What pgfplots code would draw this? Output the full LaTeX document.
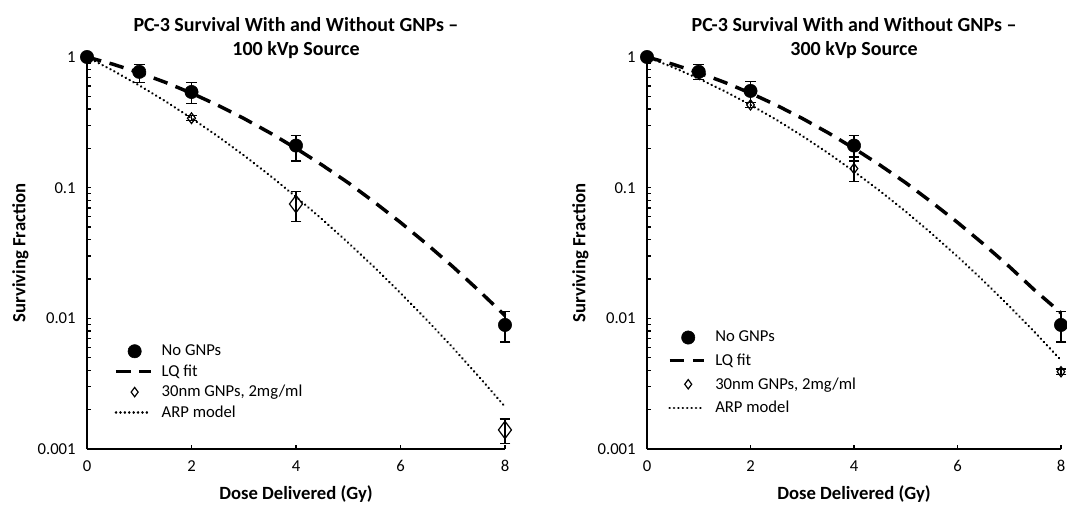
\documentclass[border=0pt]{standalone}
\usepackage{fontspec}
\setmainfont{Carlito}
\usepackage{pgfplots}
\pgfplotsset{compat=1.18}

% sizes: 1 px of the reference = 0.75pt
\tikzset{
  lqline/.style={black, line width=2.6pt, dash pattern=on 11pt off 6.5pt},
  arpline/.style={black, line width=1.9pt, line cap=round, dash pattern=on 0.1pt off 3.2pt},
}
\pgfplotsset{
  legline/.style={legend image code/.code={\draw[##1] (0pt,0pt) -- (26pt,0pt);}},
  legmark/.style={legend image code/.code={\draw[##1] plot coordinates {(14pt,0pt)};}},
  legsmall/.style={legend image code/.code={\draw[##1, mark size=3.5pt] plot coordinates {(14pt,0pt)};}},
}

\begin{document}
\begin{tikzpicture}
\begin{axis}[
  scale only axis, width=313.5pt, height=294pt,
  ymode=log,
  xmin=0, xmax=8, ymin=0.001, ymax=1,
  axis x line*=bottom, axis y line*=left,
  axis line style={line width=1.1pt},
  xtick={0,2,4,6,8}, xticklabels={0,2,4,6,8},
  ytick={0.001,0.01,0.1,1}, yticklabels={0.001,0.01,0.1,1},
  minor ytick={},
  tick align=inside, major tick length=3pt,
  tick style={line width=0.9pt, black},
  tick label style={font=\fontsize{12.5}{14}\selectfont},
  xticklabel style={yshift=-5pt},
  yticklabel style={xshift=-5pt},
  xlabel={Dose Delivered (Gy)}, ylabel={Surviving Fraction},
  label style={font=\fontsize{14}{16}\selectfont\bfseries},
  xlabel style={at={(axis description cs:0.5,0)}, anchor=center, yshift=-34pt},
  ylabel style={at={(axis description cs:0,0.5)}, anchor=center, yshift=50pt},
  title={PC-3 Survival With and Without GNPs –\\100 kVp Source},
  title style={at={(axis description cs:0.5,1)}, anchor=south, align=center,
               yshift=-11pt, font=\fontsize{15}{18}\selectfont\bfseries},
  clip=false,
  legend cell align=left,
  legend style={draw=none, fill=none, anchor=north west,
                at={(axis description cs:0.055,0.28)},
                font=\fontsize{12.5}{14}\selectfont, row sep=1.3pt,
                /tikz/every odd column/.append style={column sep=5pt}},
]
\addplot[only marks, mark=*, mark size=5pt, black, legmark,
  error bars/y dir=both, error bars/y explicit,
  error bars/error mark options={line width=0.9pt, mark size=4pt, rotate=90},
  error bars/error bar style={line width=0.9pt}] coordinates {
  (0,1)
  (1,0.77) += (0,0.11) -= (0,0.13)
  (2,0.54) += (0,0.10) -= (0,0.10)
  (4,0.21) += (0,0.04) -= (0,0.05)
  (8,0.0089) += (0,0.0024) -= (0,0.0023)
};
\addlegendentry{No GNPs}
\addplot[lqline, no marks, legline] coordinates {
  (0,1) (0.5,0.880) (1,0.758) (1.5,0.640) (2,0.529) (2.5,0.428) (3,0.339)
  (3.5,0.263) (4,0.200) (4.5,0.149) (5,0.109) (5.5,0.0775) (6,0.0542)
  (6.5,0.0371) (7,0.0249) (7.5,0.0163) (8,0.0105)
};
\addlegendentry{LQ fit}
\addplot[only marks, mark=diamond, mark size=4pt, black,
  mark options={fill=white, line width=0.9pt}, legsmall,
  error bars/y dir=both, error bars/y explicit,
  error bars/error mark options={line width=0.9pt, mark size=4pt, rotate=90},
  error bars/error bar style={line width=0.9pt}] coordinates {
  (2,0.34) += (0,0.015) -= (0,0.015)
};
\addlegendentry{30nm GNPs, 2mg/ml}
\addplot[arpline, no marks, legline] coordinates {
  (0,1) (0.5,0.786) (1,0.606) (1.5,0.459) (2,0.340) (2.5,0.248) (3,0.177)
  (3.5,0.124) (4,0.0851) (4.5,0.0573) (5,0.0379) (5.5,0.0246) (6,0.0156)
  (6.5,0.00976) (7,0.00597) (7.5,0.00358) (8,0.00211)
};
\addlegendentry{ARP model}
\addplot[forget plot, only marks, mark=diamond, mark size=6.5pt, black,
  mark options={fill=white, line width=0.9pt},
  error bars/y dir=both, error bars/y explicit,
  error bars/error mark options={line width=0.9pt, mark size=4pt, rotate=90},
  error bars/error bar style={line width=0.9pt}] coordinates {
  (4,0.075) += (0,0.018) -= (0,0.02)
  (8,0.0014) += (0,0.0003) -= (0,0.0003)
};
\end{axis}

\begin{axis}[
  xshift=420pt,
  scale only axis, width=310.5pt, height=294pt,
  ymode=log,
  xmin=0, xmax=8, ymin=0.001, ymax=1,
  axis x line*=bottom, axis y line*=left,
  axis line style={line width=1.1pt},
  xtick={0,2,4,6,8}, xticklabels={0,2,4,6,8},
  ytick={0.001,0.01,0.1,1}, yticklabels={0.001,0.01,0.1,1},
  minor ytick={},
  tick align=inside, major tick length=3pt,
  tick style={line width=0.9pt, black},
  tick label style={font=\fontsize{12.5}{14}\selectfont},
  xticklabel style={yshift=-5pt},
  yticklabel style={xshift=-5pt},
  xlabel={Dose Delivered (Gy)}, ylabel={Surviving Fraction},
  label style={font=\fontsize{14}{16}\selectfont\bfseries},
  xlabel style={at={(axis description cs:0.5,0)}, anchor=center, yshift=-34pt},
  ylabel style={at={(axis description cs:0,0.5)}, anchor=center, yshift=50pt},
  title={PC-3 Survival With and Without GNPs –\\300 kVp Source},
  title style={at={(axis description cs:0.5,1)}, anchor=south, align=center,
               yshift=-11pt, font=\fontsize{15}{18}\selectfont\bfseries},
  clip=false,
  legend cell align=left,
  legend style={draw=none, fill=none, anchor=north west,
                at={(axis description cs:0.04,0.315)},
                font=\fontsize{12.5}{14}\selectfont, row sep=3.5pt,
                /tikz/every odd column/.append style={column sep=5pt}},
]
\addplot[only marks, mark=*, mark size=5pt, black, legmark,
  error bars/y dir=both, error bars/y explicit,
  error bars/error mark options={line width=0.9pt, mark size=4pt, rotate=90},
  error bars/error bar style={line width=0.9pt}] coordinates {
  (0,1)
  (1,0.77) += (0,0.11) -= (0,0.10)
  (2,0.55) += (0,0.10) -= (0,0.10)
  (4,0.21) += (0,0.04) -= (0,0.05)
  (8,0.0089) += (0,0.0024) -= (0,0.0023)
};
\addlegendentry{No GNPs}
\addplot[lqline, no marks, legline] coordinates {
  (0,1) (0.5,0.880) (1,0.758) (1.5,0.640) (2,0.529) (2.5,0.428) (3,0.339)
  (3.5,0.263) (4,0.200) (4.5,0.149) (5,0.109) (5.5,0.0775) (6,0.0542)
  (6.5,0.0371) (7,0.0249) (7.5,0.0163) (8,0.0110)
};
\addlegendentry{LQ fit}
\addplot[only marks, mark=diamond, mark size=3.8pt, black,
  mark options={fill=white, line width=0.9pt}, legsmall,
  error bars/y dir=both, error bars/y explicit,
  error bars/error mark options={line width=0.9pt, mark size=4pt, rotate=90},
  error bars/error bar style={line width=0.9pt}] coordinates {
  (2,0.43) += (0,0.02) -= (0,0.02)
  (4,0.14) += (0,0.032) -= (0,0.029)
  (8,0.0039) += (0,0.0002) -= (0,0.0002)
};
\addlegendentry{30nm GNPs, 2mg/ml}
\addplot[arpline, no marks, legline] coordinates {
  (0,1) (0.5,0.835) (1,0.683) (1.5,0.548) (2,0.430) (2.5,0.331) (3,0.249)
  (3.5,0.184) (4,0.133) (4.5,0.0944) (5,0.0656) (5.5,0.0446) (6,0.0297)
  (6.5,0.0194) (7,0.0124) (7.5,0.00778) (8,0.00478)
};
\addlegendentry{ARP model}
\end{axis}
\pgfresetboundingbox
\useasboundingbox (-65.25pt,-44.25pt) rectangle (735pt,336.75pt);
\end{tikzpicture}
\end{document}
